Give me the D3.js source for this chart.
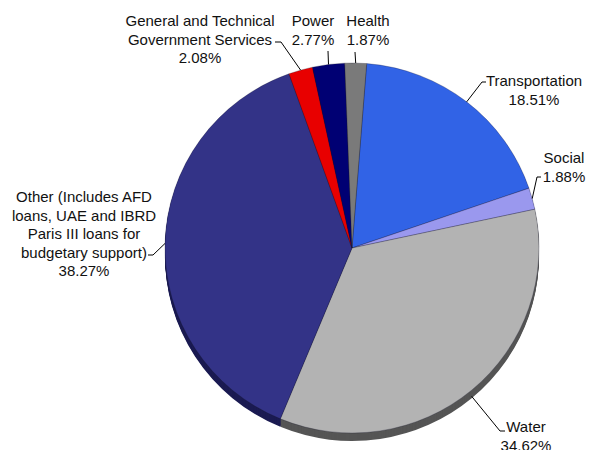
<!DOCTYPE html>
<html><head><meta charset="utf-8">
<script src="https://cdn.jsdelivr.net/npm/d3@7"></script>
<style>body{margin:0;background:#fff}svg{display:block}</style>
</head><body><svg id="c" width="590" height="450"></svg>
<script>
// ---- data ----
const categories = ["Transportation","Social","Water","Other","General and Technical Government Services","Power","Health"];
const values = [18.51, 1.88, 34.62, 38.27, 2.08, 2.77, 1.87];
const nameLines = [
  ["Transportation"],
  ["Social"],
  ["Water"],
  ["Other (Includes AFD","loans, UAE and IBRD","Paris III loans for","budgetary support)"],
  ["General and Technical","Government Services"],
  ["Power"],
  ["Health"]
];
const percentLabels = ["18.51%","1.88%","34.62%","38.27%","2.08%","2.77%","1.87%"];

// ---- style / layout ----
const topColors  = ["#3163e6","#9a98ee","#b3b3b3","#333387","#e80000","#000073","#7a7a7a"];
const sideColors = ["#1c3a8a","#5a5890","#555555","#1b1b52","#8a0000","#000040","#444444"];
const cx = 352, cy = 248, rx = 187, ry = 185, depth = 8;
const startA = 4.5 * Math.PI / 180;
const labelLayout = [
  {x:534, y:86,  hook:[[486,82],[482,82]]},
  {x:564, y:163, hook:[[541,177],[537,177]]},
  {x:526, y:432, hook:[[505,431],[500,431]]},
  {x:84,  y:202, hook:[[148,255],[153,255]]},
  {x:200, y:26,  hook:[[275,42],[281,42]]},
  {x:313, y:26,  hook:[[328,51]]},
  {x:368, y:26,  hook:[[355,52]]}
];
const lineH = 18.5;

const svg = d3.select("#c");
const pie = d3.pie().sort(null).value(d => d).startAngle(startA).endAngle(startA + 2*Math.PI);
const arcs = pie(values);
const arc = d3.arc().innerRadius(0).outerRadius(rx);

// side (extrusion)
for (let k = depth; k >= 1; k--) {
  svg.append("g").attr("transform", `translate(${cx},${cy+k}) scale(1,${ry/rx})`)
    .selectAll("path").data(arcs).join("path")
    .attr("d", arc).attr("fill", (d,i) => sideColors[i]);
}
// top face
const topFace = svg.append("g").attr("transform", `translate(${cx},${cy}) scale(1,${ry/rx})`);
topFace.selectAll("path").data(arcs).join("path")
  .attr("d", arc).attr("fill", (d,i) => topColors[i])
  .attr("stroke", "rgba(20,20,40,0.45)").attr("stroke-width", 0.6)
  .attr("vector-effect", "non-scaling-stroke");

// leader lines
arcs.forEach((d,i) => {
  const a = (d.startAngle + d.endAngle) / 2;
  const ex = cx + rx * Math.sin(a);
  const ey = cy - ry * Math.cos(a) + depth * Math.max(0, -Math.cos(a));
  const pts = labelLayout[i].hook.concat([[ex, ey]]);
  svg.append("path").attr("d", d3.line()(pts))
    .attr("fill", "none").attr("stroke", "#000").attr("stroke-width", 1);
});

// labels
arcs.forEach((d,i) => {
  const L = labelLayout[i];
  const lines = nameLines[i].concat([percentLabels[i]]);
  const t = svg.append("text").attr("text-anchor", "middle")
    .attr("font-family", "'Liberation Sans', Arial, Helvetica, sans-serif")
    .attr("font-size", 15).attr("fill", "#111");
  lines.forEach((s,j) => {
    t.append("tspan").attr("x", L.x).attr("y", L.y + j*lineH).text(s);
  });
});
</script></body></html>
